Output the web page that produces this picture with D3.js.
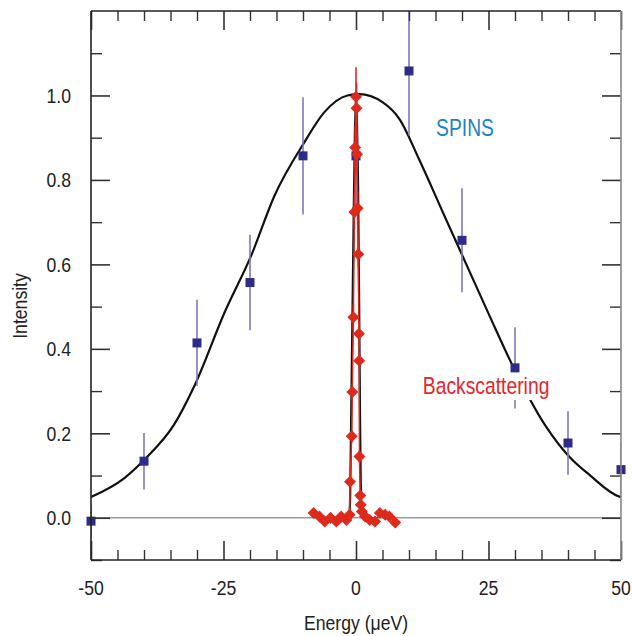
<!DOCTYPE html>
<html>
<head>
<meta charset="utf-8">
<script src="https://cdn.jsdelivr.net/npm/d3@7"></script>
<style>
  body { margin: 0; background: #fff; }
  svg { display: block; font-family: "Liberation Sans", Arial, sans-serif; }
</style>
</head>
<body>
<svg id="chart" width="632" height="636"></svg>
<script>
// SPINS data (energy in ueV, normalised intensity, error)
const spinsE = [-50, -40, -30, -20, -10, 0, 10, 20, 30, 40, 50];
const spinsI = [-0.008, 0.134, 0.414, 0.557, 0.857, 0.857, 1.058, 0.657, 0.355, 0.177, 0.114];
const spinsErr = [0.039, 0.067, 0.102, 0.113, 0.139, 0.14, 0.153, 0.123, 0.096, 0.075, 0.064];

// broad fit through SPINS points
const fitE = [-50, -43.7, -39.9, -34.3, -30.5, -24.8, -19.8, -15.4, -9.75, -6, -1.6, 0.6, 5, 8.2, 11.9, 16.4, 20.1, 25.2, 29.6, 35.8, 40.2, 44, 49.7, 50];
const fitI = [0.049, 0.094, 0.138, 0.221, 0.312, 0.486, 0.62, 0.762, 0.889, 0.96, 1.0, 1.003, 0.984, 0.944, 0.849, 0.723, 0.62, 0.478, 0.359, 0.217, 0.145, 0.102, 0.05, 0.049];

// backscattering data
const backE = [-8.0, -6.9, -5.9, -4.8, -3.7, -2.8, -1.8, -1.2, -1.13, -0.8, -0.7, -0.5, -0.3, -0.15, 0.0, 0.1, 0.2, 0.3, 0.44, 0.55, 0.6, 0.65, 0.8, 0.9, 1.1, 1.7, 2.6, 3.6, 4.5, 5.5, 6.3, 7.4];
const backI = [0.011, 0.003, -0.009, 0.0, -0.009, 0.003, -0.005, 0.007, 0.085, 0.193, 0.298, 0.475, 0.724, 0.877, 0.997, 0.97, 0.861, 0.733, 0.624, 0.436, 0.372, 0.145, 0.053, 0.031, 0.015, 0.003, -0.005, -0.009, 0.011, 0.007, 0.003, -0.011];
const backErr = [0.005, 0.005, 0.005, 0.005, 0.005, 0.005, 0.005, 0.005, 0.01, 0.015, 0.02, 0.03, 0.04, 0.05, 0.07, 0.06, 0.05, 0.04, 0.03, 0.03, 0.02, 0.015, 0.01, 0.005, 0.005, 0.005, 0.005, 0.005, 0.005, 0.005, 0.005, 0.005];

// narrow fit through backscattering points
const narrowE = [-1.5, -1.2, -1.1, -1.0, -0.8, -0.6, -0.4, -0.2, 0, 0.2, 0.4, 0.6, 0.75, 0.9, 1.0, 1.2];
const narrowI = [0, 0.01, 0.05, 0.15, 0.35, 0.55, 0.75, 0.92, 1.0, 0.93, 0.78, 0.5, 0.25, 0.08, 0.02, 0];

const xTicks = [-50, -25, 0, 25, 50];
const yTicks = [0.0, 0.2, 0.4, 0.6, 0.8, 1.0];

const svg = d3.select("#chart");
const margin = {top: 11, right: 11, bottom: 76, left: 91};
const W = 632, H = 636;
const iw = W - margin.left - margin.right;
const ih = H - margin.top - margin.bottom;

const x = d3.scaleLinear().domain([-50, 50]).range([0, iw]);
const y = d3.scaleLinear().domain([-0.1, 1.2]).range([ih, 0]);

svg.append("defs").append("clipPath").attr("id", "clip")
  .append("rect").attr("width", iw).attr("height", ih);

const g = svg.append("g").attr("transform", `translate(${margin.left},${margin.top})`);
const plot = g.append("g").attr("clip-path", "url(#clip)");
const marks = g.append("g");

// condensed look: squeeze text horizontally
const SQ = 0.84;
function label(parent, tx, ty, str, size, fill, anchor) {
  return parent.append("text")
    .attr("transform", `translate(${tx},${ty}) scale(${SQ},1)`)
    .attr("text-anchor", anchor || "start")
    .style("font-size", size + "px").attr("fill", fill)
    .text(str);
}

// zero line
plot.append("line")
  .attr("x1", 0).attr("x2", iw)
  .attr("y1", y(0)).attr("y2", y(0))
  .attr("stroke", "#9a9a9a").attr("stroke-width", 1.5);

// ticks inward on all four sides
const minorX = d3.range(-45, 50, 5).filter(v => v % 25 !== 0);
const minorY = [-0.1, 0.1, 0.3, 0.5, 0.7, 0.9, 1.1];
const tickCol = "#333";

function tickSet(axis, tr, vals, len, sw) {
  const a = g.append("g").attr("transform", tr)
    .call(axis.tickValues(vals).tickSize(len).tickSizeOuter(0).tickFormat(""));
  a.select(".domain").remove();
  a.selectAll("line").attr("stroke", tickCol).attr("stroke-width", sw);
}
tickSet(d3.axisBottom(x), `translate(0,${ih})`, xTicks, -19, 1.6);
tickSet(d3.axisTop(x), "translate(0,0)", xTicks, -19, 1.6);
tickSet(d3.axisLeft(y), "translate(0,0)", yTicks, -19, 1.6);
tickSet(d3.axisRight(y), `translate(${iw},0)`, yTicks, -19, 1.6);
tickSet(d3.axisBottom(x), `translate(0,${ih})`, minorX, -10, 1.4);
tickSet(d3.axisTop(x), "translate(0,0)", minorX, -10, 1.4);
tickSet(d3.axisLeft(y), "translate(0,0)", minorY, -11, 1.4);
tickSet(d3.axisRight(y), `translate(${iw},0)`, minorY, -11, 1.4);

// frame
g.append("line").attr("x1", 0).attr("x2", iw).attr("y1", 0).attr("y2", 0).attr("stroke", "#222").attr("stroke-width", 1.6);
g.append("line").attr("x1", 0).attr("x2", iw).attr("y1", ih).attr("y2", ih).attr("stroke", "#222").attr("stroke-width", 1.6);
g.append("line").attr("x1", 0).attr("x2", 0).attr("y1", 0).attr("y2", ih).attr("stroke", "#222").attr("stroke-width", 1.6);
g.append("line").attr("x1", iw).attr("x2", iw).attr("y1", 0).attr("y2", ih).attr("stroke", "#888").attr("stroke-width", 1.6);

// tick labels
xTicks.forEach(d => label(g, x(d), ih + 35, d, 21, "#222", "middle"));
yTicks.forEach(d => label(g, -20, y(d) + 7.5, d3.format(".1f")(d), 21, "#222", "end"));

label(svg, margin.left + x(0), 630, "Energy (\u03BCeV)", 21, "#222", "middle");
svg.append("text")
  .attr("transform", `translate(27,306) rotate(-90) scale(${SQ},1)`)
  .attr("text-anchor", "middle").style("font-size", "21px").attr("fill", "#222")
  .text("Intensity");

// broad fit
const fitData = fitE.map((e, i) => [e, fitI[i]]);
const line = d3.line().x(d => x(d[0])).y(d => y(d[1])).curve(d3.curveMonotoneX);
plot.append("path").datum(fitData)
  .attr("fill", "none").attr("stroke", "#111").attr("stroke-width", 2.2)
  .attr("d", line);

// SPINS error bars
const spins = spinsE.map((e, i) => ({e, v: spinsI[i], err: spinsErr[i]}));
plot.selectAll(".eb").data(spins).enter().append("line")
  .attr("x1", d => x(d.e)).attr("x2", d => x(d.e))
  .attr("y1", d => y(d.v - d.err)).attr("y2", d => y(d.v + d.err))
  .attr("stroke", "#7e78bd").attr("stroke-width", 1.6);

// label box and labels
marks.append("rect")
  .attr("x", x(12.5)).attr("y", y(0.345)).attr("width", 128).attr("height", 28)
  .attr("fill", "#fff");
label(marks, x(12.6), y(0.293), "Backscattering", 23, "#e8232b");
label(marks, x(15.1), y(0.903), "SPINS", 23, "#1f7fc6");

// SPINS squares
marks.selectAll(".sq").data(spins).enter().append("rect")
  .attr("x", d => x(d.e) - 4.5).attr("y", d => y(d.v) - 4.5)
  .attr("width", 9).attr("height", 9)
  .attr("fill", "#2f2b88");

// backscattering
const bs = backE.map((e, i) => ({e, v: backI[i], err: backErr[i]}));
const narrow = narrowE.map((e, i) => [e, narrowI[i]]);
plot.append("path").datum(narrow)
  .attr("fill", "none").attr("stroke", "#111").attr("stroke-width", 2.2)
  .attr("d", d3.line().x(d => x(d[0])).y(d => y(d[1])));
marks.selectAll(".reb").data(bs).enter().append("line")
  .attr("x1", d => x(d.e)).attr("x2", d => x(d.e))
  .attr("y1", d => y(d.v - d.err)).attr("y2", d => y(d.v + d.err))
  .attr("stroke", "#e0291d").attr("stroke-width", 1.6);
marks.append("path").datum(bs)
  .attr("fill", "none").attr("stroke", "#e0291d").attr("stroke-width", 1.5)
  .attr("d", d3.line().x(d => x(d.e)).y(d => y(d.v)));
marks.selectAll(".dm").data(bs).enter().append("path")
  .attr("transform", d => `translate(${x(d.e)},${y(d.v)})`)
  .attr("d", "M0,-6L6,0L0,6L-6,0Z")
  .attr("fill", "#dd2a1c");
</script>
</body>
</html>
